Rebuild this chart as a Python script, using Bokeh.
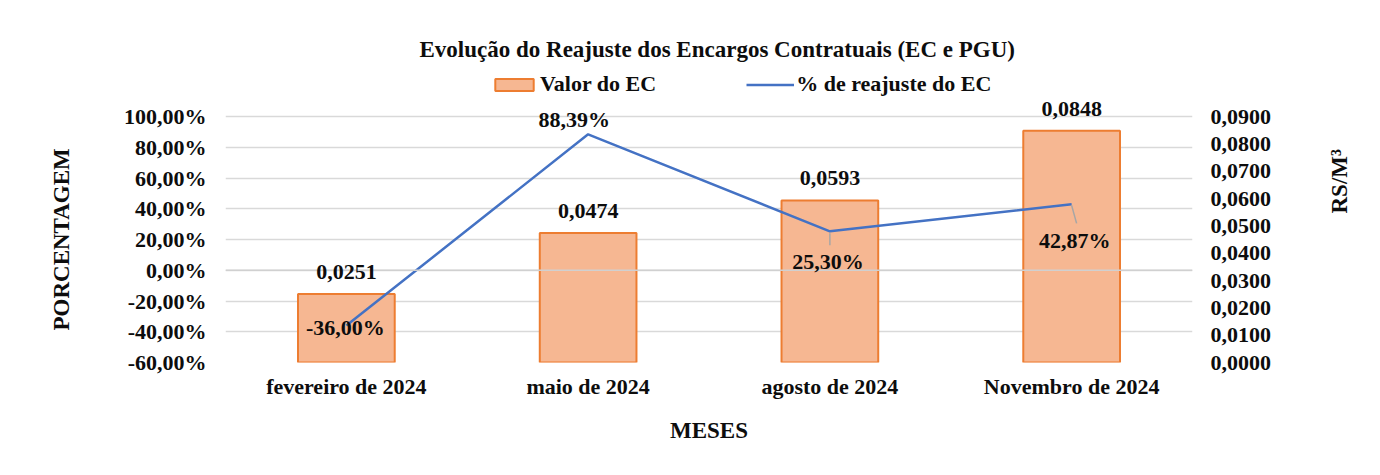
import math
from bokeh.plotting import figure
from bokeh.models import (ColumnDataSource, Range1d, LinearAxis, FixedTicker, LabelSet,
                          Legend, LegendItem, Span, Title)
from bokeh.embed import file_html
from bokeh.resources import INLINE

# ---- data ----
months = ["fevereiro de 2024", "maio de 2024", "agosto de 2024", "Novembro de 2024"]
ec_value = [0.0251, 0.0474, 0.0593, 0.0848]          # R$/m³ (right axis)
ec_value_labels = ["0,0251", "0,0474", "0,0593", "0,0848"]
reajuste_pct = [-36.00, 88.39, 25.30, 42.87]          # % (left axis)
reajuste_labels = ["-36,00%", "88,39%", "25,30%", "42,87%"]
left_ticks = [-60, -40, -20, 0, 20, 40, 60, 80, 100]
left_tick_labels = ["-60,00%", "-40,00%", "-20,00%", "0,00%", "20,00%", "40,00%", "60,00%", "80,00%", "100,00%"]
right_ticks = [0.0, 0.01, 0.02, 0.03, 0.04, 0.05, 0.06, 0.07, 0.08, 0.09]
right_tick_labels = ["0,0000", "0,0100", "0,0200", "0,0300", "0,0400", "0,0500", "0,0600", "0,0700", "0,0800", "0,0900"]

FONT = "Liberation Serif"
TXT = "#0d0d0d"
W, H = 1380, 475
FR_L, FR_R, FR_T, FR_B = 220, 1192, 64, 362   # frame edges (px)
AX_TOP_PX = 116                                # pixel row of the 100% / 0.09 gridline
ML, MR, MT, MB = FR_L, W - FR_R, FR_T, H - FR_B
Y_MIN, Y_MAX = -60, 100
R_MIN, R_MAX = 0.0, 0.09
PX = (FR_B - AX_TOP_PX) / (Y_MAX - Y_MIN)      # px per % unit
EXTRA = FR_T - AX_TOP_PX                        # negative: room above the axis top for labels/legend
y_top = Y_MAX - EXTRA / PX
r_top = R_MAX - EXTRA * (R_MAX - R_MIN) / (FR_B - AX_TOP_PX)

xs = list(range(len(months)))

p = figure(width=W, height=H, output_backend="svg", toolbar_location=None,
           x_range=Range1d(-0.5, len(months) - 0.5), y_range=Range1d(Y_MIN, y_top),
           min_border_left=ML, min_border_right=MR, min_border_top=MT, min_border_bottom=MB)
p.extra_y_ranges = {"val": Range1d(R_MIN, r_top)}
p.outline_line_color = None
p.background_fill_color = "white"
p.border_fill_color = "white"

# title
p.title.text = "Evolução do Reajuste dos Encargos Contratuais  (EC e PGU)"
p.title.align = "left"
p.title.offset = 194
p.title.standoff = 6
p.title.text_font = FONT
p.title.text_font_size = "23px"
p.title.text_font_style = "bold"
p.title.text_color = TXT

# grid
p.xgrid.visible = False
p.ygrid.ticker = FixedTicker(ticks=left_ticks)
p.ygrid.grid_line_color = "#D9D9D9"
p.ygrid.grid_line_width = 1.5
p.add_layout(Span(location=0, dimension="width", line_color="#D0D0D0", line_width=1.5))

# bars (right axis)
src = ColumnDataSource(dict(x=xs, v=ec_value, vl=ec_value_labels, r=reajuste_pct, rl=reajuste_labels))
bars = p.vbar(x="x", top="v", bottom=0, width=0.4, source=src, y_range_name="val",
              fill_color="#F6B792", line_color="#ED7D31", line_width=2)
line = p.line(x="x", y="r", source=src, line_color="#4472C4", line_width=2.5)

# axes styling
def style_axis(ax, size="22px"):
    ax.major_label_text_font = FONT
    ax.major_label_text_font_size = size
    ax.major_label_text_font_style = "bold"
    ax.major_label_text_color = TXT
    ax.axis_label_text_font = FONT
    ax.axis_label_text_font_size = "23px"
    ax.axis_label_text_font_style = "bold"
    ax.axis_label_text_color = TXT
    ax.axis_line_color = None
    ax.major_tick_line_color = None
    ax.minor_tick_line_color = None

yl = p.yaxis[0]
yl.ticker = FixedTicker(ticks=left_ticks)
yl.major_label_overrides = {t: s for t, s in zip(left_ticks, left_tick_labels)}
style_axis(yl)
yl.major_label_standoff = 13

# left axis title as a side-panel title (so it can be shifted along the axis)
left_title = Title(text="PORCENTAGEM", align="left", offset=32, standoff=93,
                   text_font=FONT, text_font_size="23px", text_font_style="bold", text_color=TXT)
p.add_layout(left_title, "left")

yr = LinearAxis(y_range_name="val", axis_label="RS/M³")
yr.ticker = FixedTicker(ticks=right_ticks)
yr.major_label_overrides = {t: s for t, s in zip(right_ticks, right_tick_labels)}
style_axis(yr)
yr.major_label_standoff = 12
yr.axis_label_standoff = 65
yr.axis_label_orientation = math.pi / 2
p.add_layout(yr, "right")

xa = p.xaxis[0]
xa.ticker = FixedTicker(ticks=xs)
xa.major_label_overrides = {i: m for i, m in zip(xs, months)}
xa.axis_label = "MESES"
style_axis(xa)
xa.major_label_standoff = 5
xa.axis_label_standoff = 16

# bar value labels
bar_lbl = LabelSet(x="x", y="v", text="vl", source=src, y_range_name="val",
                   text_align="center", text_baseline="middle", y_offset=22,
                   text_font=FONT, text_font_size="22px", text_font_style="bold", text_color=TXT)
p.add_layout(bar_lbl)

# line value labels (offsets in px, separate from data)
lbl_dx = [-1, -14, -2, 3]
lbl_dy = [-2, 15, -30, -36]
lsrc = ColumnDataSource(dict(x=xs, r=reajuste_pct, rl=reajuste_labels, dx=lbl_dx, dy=lbl_dy))
line_lbl = LabelSet(x="x", y="r", text="rl", source=lsrc, x_offset="dx", y_offset="dy",
                    text_align="center", text_baseline="middle",
                    text_font=FONT, text_font_size="22px", text_font_style="bold", text_color=TXT)
p.add_layout(line_lbl)

# leader lines for labels placed below their points
lead_i = [2, 3]
lead_dx = [0.0, 5 / 243]
lead_top = [2, 1]
lead_bot = [14, 19]
p.segment(x0=[xs[i] for i in lead_i], y0=[reajuste_pct[i] - t / PX for i, t in zip(lead_i, lead_top)],
          x1=[xs[i] + d for i, d in zip(lead_i, lead_dx)],
          y1=[reajuste_pct[i] - b / PX for i, b in zip(lead_i, lead_bot)],
          line_color="#A6A6A6", line_width=1.5)

# legend (inside the frame's top band, frame-relative screen px)
legend = Legend(items=[LegendItem(label="Valor do EC", renderers=[bars]),
                       LegendItem(label="% de reajuste do EC", renderers=[line])],
                orientation="horizontal", location=(261, 261),
                label_text_font=FONT, label_text_font_size="22px", label_text_font_style="bold",
                label_text_color=TXT, glyph_width=48, glyph_height=15, spacing=90,
                label_standoff=2, border_line_alpha=0, background_fill_alpha=0,
                margin=0, padding=4)
p.add_layout(legend)

open("out.html", "w").write(file_html(p, INLINE))
